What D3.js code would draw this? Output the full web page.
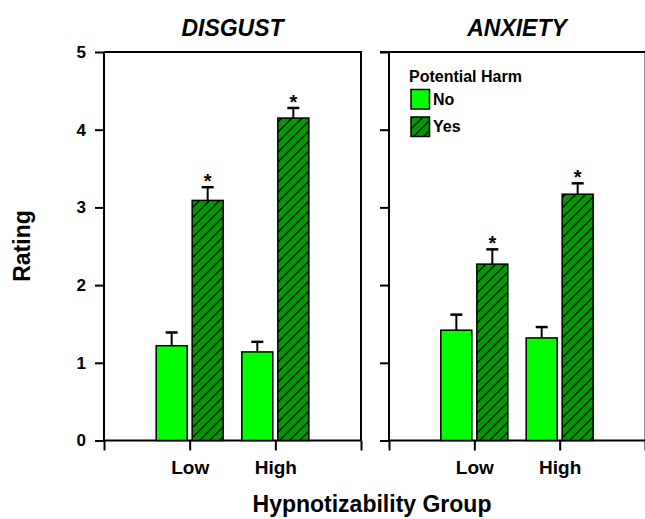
<!DOCTYPE html>
<html>
<head lang="en">
  <meta charset="UTF-8">
  <title>Disgust and Anxiety Ratings</title>
</head>
<style>
  body { margin: 0; background: #fff; }
  #chart text { font-family: "Liberation Sans", Arial, sans-serif; font-weight: bold; }
  .bar { stroke: #000; stroke-width: 1.5; }
  .axis path, .axis line { stroke: #000; stroke-width: 2; }
</style>
<body>

<svg id="chart" width="645" height="519"></svg>

<script src="https://cdn.jsdelivr.net/npm/d3@7"></script>
<script>
  var panels = [ 'DISGUST', 'ANXIETY' ];
  var groups = [ 'Low', 'High' ];
  var harm = [ 'No', 'Yes' ];
  var yTicks = [ 0, 1, 2, 3, 4, 5 ];

  // [group][No, Yes]
  var disgustMeans = [ [ 1.22, 3.09 ], [ 1.14, 4.15 ] ];
  var disgustErr   = [ [ 0.17, 0.17 ], [ 0.13, 0.13 ] ];
  var anxietyMeans = [ [ 1.42, 2.27 ], [ 1.32, 3.17 ] ];
  var anxietyErr   = [ [ 0.20, 0.19 ], [ 0.14, 0.14 ] ];
  var starred = [ false, true ];

  var svg = d3.select('#chart');

  var defs = svg.append('defs');
  function hatch(id, size) {
    var p = defs.append('pattern')
      .attr('id', id)
      .attr('patternUnits', 'userSpaceOnUse')
      .attr('width', size).attr('height', size);
    p.append('rect').attr('width', size).attr('height', size).attr('fill', '#009900');
    p.append('path')
      .attr('d', 'M-1,' + (size + 1) + ' L' + (size + 1) + ',-1 M-2,2 L2,-2 M' + (size - 2) + ',' + (size + 2) + ' L' + (size + 2) + ',' + (size - 2))
      .attr('stroke', '#000').attr('stroke-width', 1.3);
  }
  hatch('hatch', 10);

  var fills = [ '#00ff00', 'url(#hatch)' ];

  var y = d3.scaleLinear().domain([ 0, 5 ]).range([ 440.5, 52 ]);
  var panelX = [ [ 104, 361 ], [ 389, 645 ] ];
  var data = [
    { means: disgustMeans, err: disgustErr },
    { means: anxietyMeans, err: anxietyErr }
  ];
  var barWidth = 31, gap = 5;

  panels.forEach(function(name, pi) {
    var x = d3.scaleLinear().domain([ 0, 3 ]).range(panelX[pi]);
    var g = svg.append('g');

    // frame top and right
    g.append('path')
      .attr('d', 'M' + x(0) + ',' + y(5) + 'H' + x(3) + 'V' + y(0))
      .attr('fill', 'none').attr('stroke', pi === 0 ? '#000' : '#999')
      .attr('stroke-width', 2);
    if (pi === 1) {
      g.append('line').attr('x1', x(0) - 9).attr('x2', x(3))
        .attr('y1', y(5)).attr('y2', y(5)).attr('stroke', '#000').attr('stroke-width', 2);
    }

    var yAxis = d3.axisLeft(y).tickValues(yTicks).tickSize(9).tickPadding(9)
      .tickFormat(pi === 0 ? d3.format('d') : '');
    g.append('g').attr('class', 'axis')
      .attr('transform', 'translate(' + x(0) + ',0)')
      .call(yAxis)
      .call(function(a) {
        a.select('.domain').attr('d', 'M0,' + y(0) + 'V' + y(5));
        a.selectAll('text').style('font-size', '17px').attr('fill', '#000');
      });

    var xAxis = d3.axisBottom(x).tickValues([ 0, 1, 2, 3 ]).tickSize(10)
      .tickFormat(function(d) { return groups[d - 1] || ''; });
    g.append('g').attr('class', 'axis')
      .attr('transform', 'translate(0,' + y(0) + ')')
      .call(xAxis)
      .call(function(a) {
        a.select('.domain').attr('d', 'M' + x(0) + ',0H' + x(3));
        a.selectAll('text').style('font-size', '19px').attr('fill', '#000')
          .attr('y', 33.5).attr('dy', 0);
      });

    var d = data[pi];
    groups.forEach(function(grp, gi) {
      harm.forEach(function(h, hi) {
        var cx = x(gi + 1);
        var left = hi === 0 ? cx - gap / 2 - barWidth : cx + gap / 2;
        var v = d.means[gi][hi], e = d.err[gi][hi];
        var mid = left + barWidth / 2;
        g.append('line').attr('x1', mid).attr('x2', mid)
          .attr('y1', y(v)).attr('y2', y(v + e))
          .attr('stroke', '#000').attr('stroke-width', 2);
        g.append('line').attr('x1', mid - 6).attr('x2', mid + 6)
          .attr('y1', y(v + e)).attr('y2', y(v + e))
          .attr('stroke', '#000').attr('stroke-width', 2.5);
        g.append('rect').attr('class', 'bar')
          .attr('x', left).attr('y', y(v))
          .attr('width', barWidth).attr('height', y(0) - y(v))
          .attr('fill', fills[hi]);
        if (starred[hi]) {
          g.append('text').attr('x', mid).attr('y', y(v + e) + 1)
            .attr('text-anchor', 'middle').style('font-size', '20px').text('*');
        }
      });
    });

    g.append('text')
      .attr('x', (x(0) + x(3)) / 2).attr('y', 36)
      .attr('text-anchor', 'middle')
      .style('font-size', '23px').style('font-style', 'italic')
      .text(name);
  });

  // legend
  var leg = svg.append('g');
  leg.append('text').attr('x', 409).attr('y', 82).style('font-size', '16px').text('Potential Harm');
  harm.forEach(function(h, i) {
    leg.append('rect').attr('class', 'bar')
      .attr('x', 411).attr('y', 89.5 + i * 27.5).attr('width', 18.5).attr('height', 19.5)
      .attr('fill', fills[i]);
    leg.append('text').attr('x', 433).attr('y', 104.5 + i * 27.5)
      .style('font-size', '16px').text(h);
  });

  svg.append('text').attr('x', 372).attr('y', 512).attr('text-anchor', 'middle')
    .style('font-size', '23px').text('Hypnotizability Group');
  svg.append('text').attr('transform', 'translate(30,246) rotate(-90)')
    .attr('text-anchor', 'middle').style('font-size', '23px').text('Rating');
</script>
</body>
</html>
